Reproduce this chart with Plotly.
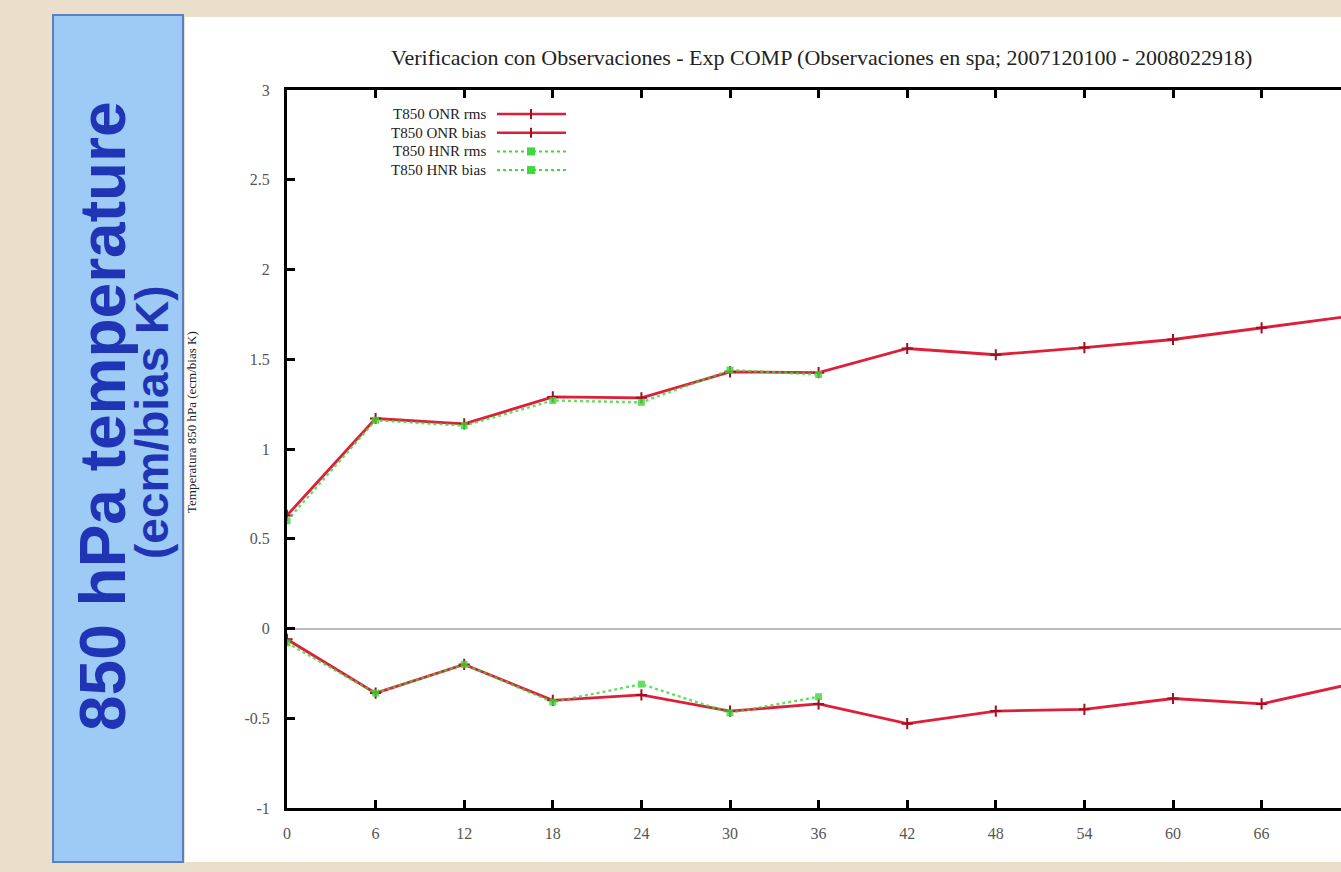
import plotly.graph_objects as go

# ---------------- data ----------------
steps = [0, 6, 12, 18, 24, 30, 36, 42, 48, 54, 60, 66, 72]
onr_rms = [0.63, 1.17, 1.14, 1.29, 1.285, 1.43, 1.425, 1.56, 1.525, 1.565, 1.61, 1.675, 1.74]
onr_bias = [-0.06, -0.36, -0.20, -0.40, -0.37, -0.46, -0.42, -0.53, -0.46, -0.45, -0.39, -0.42, -0.31]

hnr_steps = [0, 6, 12, 18, 24, 30, 36]
hnr_rms = [0.60, 1.16, 1.13, 1.27, 1.26, 1.44, 1.415]
hnr_bias = [-0.08, -0.36, -0.20, -0.41, -0.31, -0.47, -0.38]

y_ticks = [3, 2.5, 2, 1.5, 1, 0.5, 0, -0.5, -1]
y_tick_labels = ["3", "2.5", "2", "1.5", "1", "0.5", "0", "-0.5", "-1"]
x_ticks = [0, 6, 12, 18, 24, 30, 36, 42, 48, 54, 60, 66, 72]

legend_labels = ["T850 ONR rms", "T850 ONR bias", "T850 HNR rms", "T850 HNR bias"]

title_text = ("Verificacion con Observaciones - Exp COMP "
              "(Observaciones en spa; 2007120100 - 2008022918)")
side_title_1 = "850 hPa temperature"
side_title_2 = "(ecm/bias K)"
axis_title = "Temperatura 850 hPa (ecm/bias K)"

# ---------------- layout geometry ----------------
FIG_W, FIG_H = 1341, 872
L, R, T, B = 287, 1341, 90, 808
BEIGE = "#E9DFCB"


def px(x):
    return (x - L) / (R - L)


def py(y):
    return (B - y) / (B - T)


RED = "#DE1F3A"
GREEN = "#3CD83C"
SERIF = "Liberation Serif, Times New Roman, serif"
SANS = "Liberation Sans, Arial, sans-serif"

fig = go.Figure()

fig.add_trace(go.Scatter(x=steps, y=onr_rms, mode="lines+markers", name=legend_labels[0],
                         line=dict(color=RED, width=2.8),
                         marker=dict(symbol="cross-thin", size=8, line=dict(width=2, color="#A0101E"))))
fig.add_trace(go.Scatter(x=steps, y=onr_bias, mode="lines+markers", name=legend_labels[1],
                         line=dict(color=RED, width=2.8),
                         marker=dict(symbol="cross-thin", size=8, line=dict(width=2, color="#A0101E"))))
fig.add_trace(go.Scatter(x=hnr_steps, y=hnr_rms, mode="lines+markers", name=legend_labels[2],
                         line=dict(color=GREEN, width=2.4, dash="dot"), opacity=0.8,
                         marker=dict(symbol="square", size=7, color=GREEN)))
fig.add_trace(go.Scatter(x=hnr_steps, y=hnr_bias, mode="lines+markers", name=legend_labels[3],
                         line=dict(color=GREEN, width=2.4, dash="dot"), opacity=0.8,
                         marker=dict(symbol="square", size=7, color=GREEN)))

shapes = []
# white slide panel
shapes.append(dict(type="rect", xref="paper", yref="paper", layer="below",
                   x0=px(185), x1=px(1345), y0=py(17), y1=py(862),
                   fillcolor="white", line=dict(width=0)))
# blue side box
shapes.append(dict(type="rect", xref="paper", yref="paper", layer="above",
                   x0=px(53), x1=px(183), y0=py(15), y1=py(862),
                   fillcolor="#9DCBF6", line=dict(color="#5B7EC4", width=2)))

annotations = []
# legend (text right-aligned, sample on the right)
for i, lab in enumerate(legend_labels):
    yy = 114 + 18.7 * i
    col = RED if i < 2 else GREEN
    annotations.append(dict(xref="paper", yref="paper", x=px(488), y=py(yy),
                            xanchor="right", yanchor="middle", showarrow=False,
                            text=lab, font=dict(family=SERIF, size=15, color="#222222")))
    shapes.append(dict(type="line", xref="paper", yref="paper",
                       x0=px(497), x1=px(566), y0=py(yy), y1=py(yy),
                       line=dict(color=col, width=2.5 if i < 2 else 2,
                                 dash="solid" if i < 2 else "dot")))
    if i < 2:
        shapes.append(dict(type="line", xref="paper", yref="paper",
                           x0=px(531), x1=px(531), y0=py(yy - 5), y1=py(yy + 5),
                           line=dict(color="#A0101E", width=2)))
    else:
        shapes.append(dict(type="rect", xref="paper", yref="paper",
                           x0=px(527), x1=px(535), y0=py(yy - 4), y1=py(yy + 4),
                           fillcolor=GREEN, line=dict(width=0)))

# title
annotations.append(dict(xref="paper", yref="paper", x=px(821), y=py(57),
                        xanchor="center", yanchor="middle", showarrow=False,
                        text=title_text, font=dict(family=SERIF, size=22, color="#222222")))
# side titles in the blue box
annotations.append(dict(xref="paper", yref="paper", x=px(103), y=py(416),
                        xanchor="center", yanchor="middle", showarrow=False, textangle=-90,
                        text="<b>" + side_title_1 + "</b>",
                        font=dict(family=SANS, size=64, color="#1F35B5")))
annotations.append(dict(xref="paper", yref="paper", x=px(152), y=py(422),
                        xanchor="center", yanchor="middle", showarrow=False, textangle=-90,
                        text="<b>" + side_title_2 + "</b>",
                        font=dict(family=SANS, size=46, color="#1F35B5")))
# small axis title
annotations.append(dict(xref="paper", yref="paper", x=px(191), y=py(422),
                        xanchor="center", yanchor="middle", showarrow=False, textangle=-90,
                        text=axis_title, font=dict(family=SERIF, size=13, color="#222222")))

fig.update_layout(
    width=FIG_W, height=FIG_H,
    margin=dict(l=L, r=FIG_W - R, t=T, b=FIG_H - B, pad=0),
    paper_bgcolor=BEIGE,
    plot_bgcolor="white",
    showlegend=False,
    shapes=shapes,
    annotations=annotations,
    xaxis=dict(range=[0, 6 * (R - L) / 88.6], tickvals=x_ticks,
               ticktext=[str(v) for v in x_ticks],
               showgrid=False, zeroline=False,
               showline=True, linecolor="black", linewidth=3, mirror="ticks",
               ticks="inside", ticklen=8, tickwidth=2.5, tickcolor="black",
               tickfont=dict(family=SERIF, size=16, color="#555555"),
               fixedrange=True),
    yaxis=dict(range=[-1, 3], tickvals=y_ticks, ticktext=y_tick_labels,
               showgrid=False, zeroline=True, zerolinecolor="#BBBBBB", zerolinewidth=2,
               showline=True, linecolor="black", linewidth=3, mirror=False,
               ticks="inside", ticklen=8, tickwidth=2.5, tickcolor="black",
               tickfont=dict(family=SERIF, size=16, color="#555555"),
               fixedrange=True),
)
fig.update_xaxes(ticklabelstandoff=9)
fig.update_yaxes(ticklabelstandoff=11)

fig.write_html("out.html", config={"displayModeBar": False},
               post_script="document.body.style.margin='0';"
                           "document.body.style.background='" + BEIGE + "';"
                           "document.body.style.overflow='hidden';")
